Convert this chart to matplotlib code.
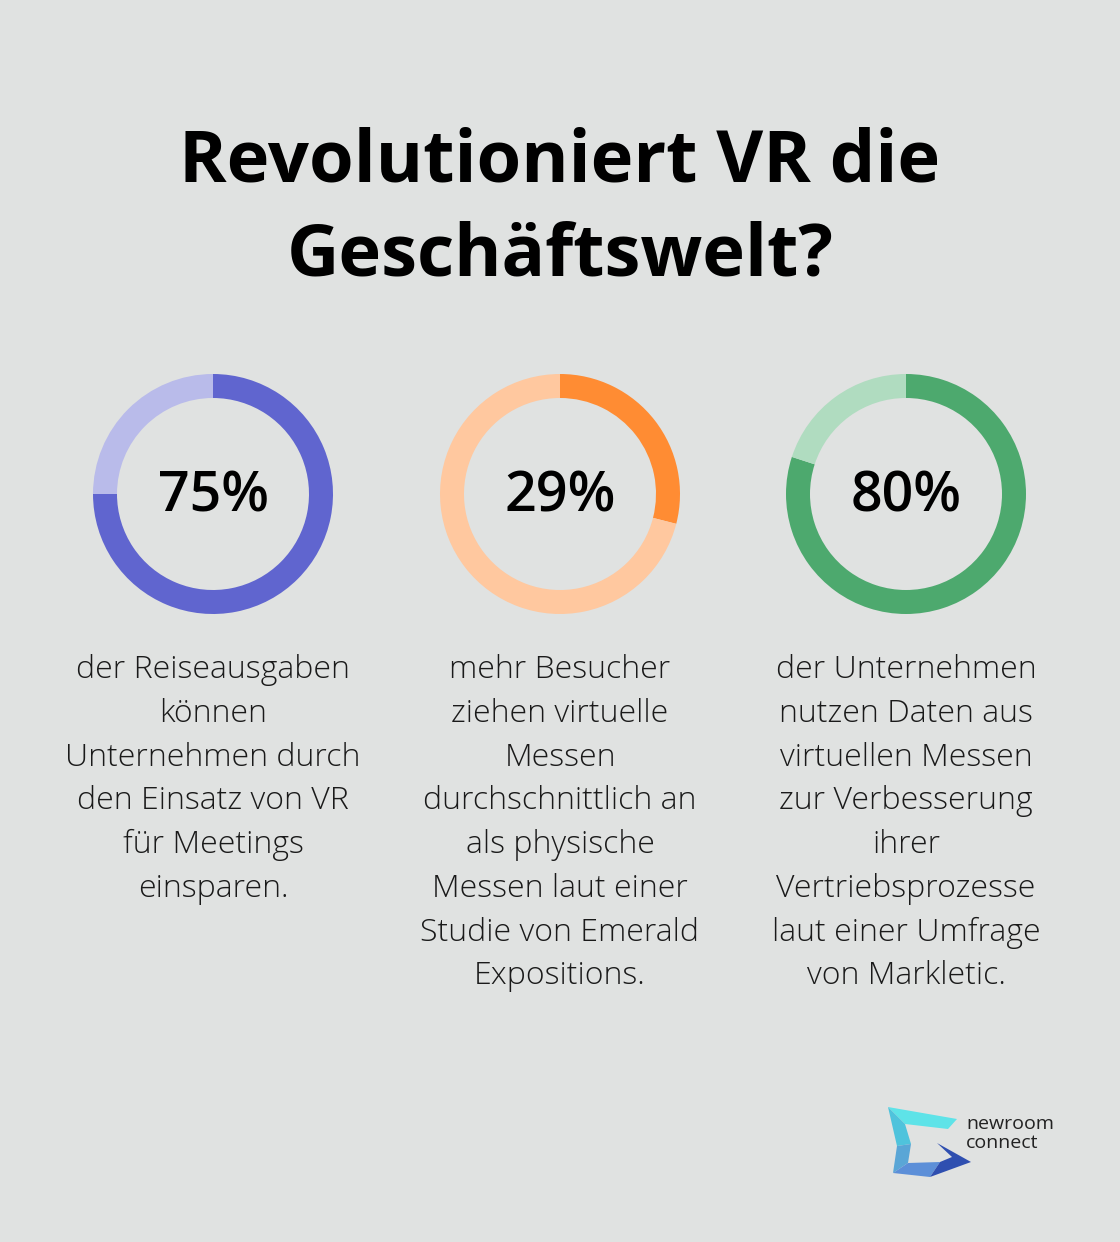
import matplotlib.pyplot as plt
from matplotlib.patches import Polygon

plt.rcParams['font.family'] = ['Open Sans', 'DejaVu Sans']

# Daten
title = "Revolutioniert VR die\nGeschäftswelt?"
percent_values = [75, 29, 80]
percent_labels = ["75%", "29%", "80%"]
descriptions = [
    "der Reiseausgaben\nkönnen\nUnternehmen durch\nden Einsatz von VR\nfür Meetings\neinsparen.",
    "mehr Besucher\nziehen virtuelle\nMessen\ndurchschnittlich an\nals physische\nMessen laut einer\nStudie von Emerald\nExpositions.",
    "der Unternehmen\nnutzen Daten aus\nvirtuellen Messen\nzur Verbesserung\nihrer\nVertriebsprozesse\nlaut einer Umfrage\nvon Markletic.",
]
main_colors = ["#6065CF", "#FF8C33", "#4DA96E"]
light_colors = ["#B9BBEA", "#FFC89F", "#B0DCC0"]

W, H = 1120, 1242
bg = "#E0E2E1"
fig = plt.figure(figsize=(W / 100, H / 100), dpi=100, facecolor=bg)

# Hintergrund-Achse in Pixelkoordinaten
ax = fig.add_axes([0, 0, 1, 1])
ax.set_xlim(0, W)
ax.set_ylim(H, 0)
ax.axis('off')

ax.text(560, 210, title, ha='center', va='center', fontsize=52, fontweight='bold',
        color='#000000', linespacing=1.40)

centers_x = [213, 560, 906]
cy = 494
r_out = 120
for i, cx in enumerate(centers_x):
    dax = fig.add_axes([(cx - r_out) / W, 1 - (cy + r_out) / H, 2 * r_out / W, 2 * r_out / H])
    v = percent_values[i]
    dax.pie([v, 100 - v], colors=[main_colors[i], light_colors[i]], startangle=90,
            counterclock=False, radius=1, wedgeprops=dict(width=0.2, linewidth=0))
    dax.set_aspect('equal')
    dax.set_xlim(-1, 1)
    dax.set_ylim(-1, 1)
    dax.axis('off')
    ax.text(cx, cy + 4, percent_labels[i], ha='center', va='center', fontsize=40,
            color='#000000', fontweight='semibold')
    ax.text(cx, 654, descriptions[i], ha='center', va='top', fontsize=23,
            color='#1a1a1a', linespacing=1.49, fontweight='light')

# Logo
logo_parts = [
    ([(888, 1107), (957, 1119), (948, 1129), (905, 1124)], "#5EE3E8"),
    ([(888, 1107), (905, 1124), (911, 1144), (897, 1146)], "#4FC3DC"),
    ([(897, 1146), (911, 1144), (908, 1163), (893, 1173)], "#5AA6D6"),
    ([(893, 1173), (908, 1163), (940, 1162), (930, 1177)], "#5C8FD8"),
    ([(937, 1143), (971, 1162), (930, 1177), (940, 1162), (952, 1157)], "#2F4FB0"),
]
for pts, col in logo_parts:
    ax.add_patch(Polygon(pts, closed=True, facecolor=col, edgecolor='none'))
ax.text(966, 1124, "newroom", ha='left', va='center', fontsize=14, color='#222222')
ax.text(966, 1143, "connect", ha='left', va='center', fontsize=14, color='#222222')

fig.savefig('out.png', dpi=100, facecolor=bg)
